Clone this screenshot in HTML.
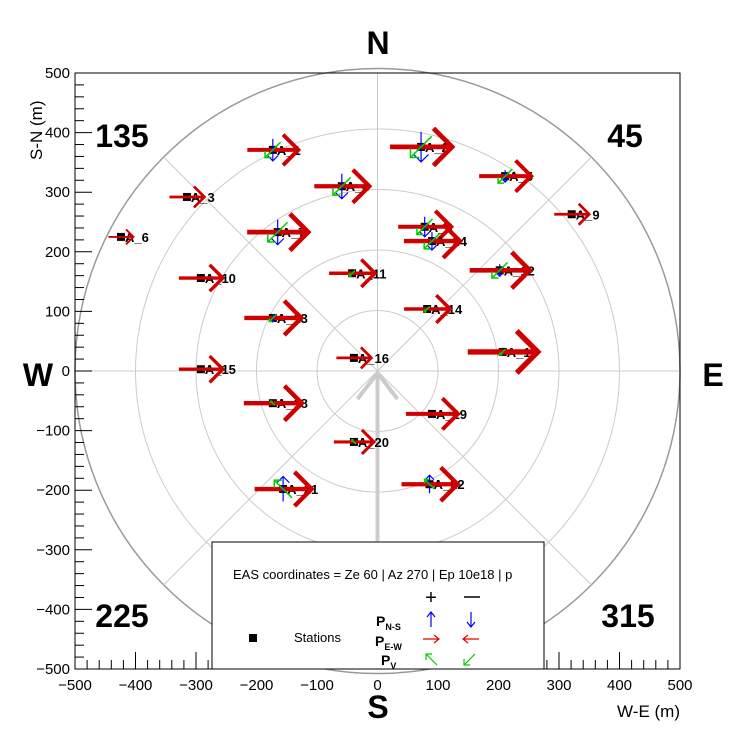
<!DOCTYPE html>
<html><head><meta charset="utf-8"><style>
body{margin:0;background:#fff;}
svg text{font-family:"Liberation Sans",sans-serif;}
</style></head><body>
<svg id="chart" width="756" height="744" viewBox="0 0 756 744" xmlns="http://www.w3.org/2000/svg">
<rect x="0" y="0" width="756" height="744" fill="#fff"/>
<g id="grid"></g>
<g id="marks"></g>
<g id="axes"></g>
<g id="legend">
  <rect x="212" y="542" width="332" height="127" fill="#fff" stroke="#000" stroke-width="1"/>
  <text x="233" y="579" font-size="13">EAS coordinates =  Ze 60 | Az 270 | Ep 10e18 | p</text>
  <text x="431" y="604" font-size="20" text-anchor="middle">+</text>
  <line x1="464" y1="597" x2="480" y2="597" stroke="#000" stroke-width="1.5"/>
  <rect x="249" y="634" width="8" height="8" fill="#000"/>
  <text x="294" y="642" font-size="13">Stations</text>
  <text x="376" y="626" font-size="14" font-weight="bold">P<tspan font-size="9" dy="4">N-S</tspan></text>
  <text x="375" y="646" font-size="14" font-weight="bold">P<tspan font-size="9" dy="4">E-W</tspan></text>
  <text x="381" y="665" font-size="14" font-weight="bold">P<tspan font-size="9" dy="4">V</tspan></text>
  <g stroke="#0000ff" fill="none" stroke-width="1.2">
    <path d="M431 627 V612 M427 617 L431 612 L435 617"/>
    <path d="M471 612 V627 M467 622 L471 627 L475 622"/>
  </g>
  <g stroke="#e00000" fill="none" stroke-width="1.2">
    <path d="M423 639 H439 M434 635 L439 639 L434 643"/>
    <path d="M479 639 H463 M468 635 L463 639 L468 643"/>
  </g>
  <g stroke="#00cc00" fill="none" stroke-width="1.2">
    <path d="M437 665 L426 654 M426 660 V654 H432"/>
    <path d="M475 654 L464 665 M464 659 V665 H470"/>
  </g>
</g>
<g font-weight="bold" font-size="32" text-anchor="middle">
  <text x="378" y="54">N</text>
  <text x="378" y="718">S</text>
  <text x="38" y="386">W</text>
  <text x="713" y="386">E</text>
  <text x="122" y="147">135</text>
  <text x="625" y="147">45</text>
  <text x="122" y="627">225</text>
  <text x="628" y="627">315</text>
</g>
<text x="680" y="717" font-size="17" text-anchor="end">W-E (m)</text>
<text transform="translate(42,160) rotate(-90)" font-size="17">S-N (m)</text>
</svg>
<script>
const stationNames = ["A_1","A_2","A_3","A_4","A_5","A_6","A_7","A_8","A_9","A_10","A_11","A_12","A_13","A_14","A_15","A_16","A_17","A_18","A_19","A_20","A_21","A_22","A_24"];
const stationX = [-173,72,-315,-59,211,-424,-165,78,321,-292,-42,202,-173,82,-292,-39,207,-173,90,-39,-156,86,90];
const stationY = [371,376,292,310,327,225,233,242,263,156,164,169,89,104,3,22,32,-54,-72,-119,-198,-190,218];
const pEW = [51,62,35,55,52,25,61,53,35,44,46,60,57,46,44,35,70,58,52,40,57,56,56];
const pNS = [-22,-30,0,-25,-12,0,-25,-20,0,0,0,-12,-8,0,0,0,0,0,0,0,25,18,-18];
const pV = [-22,-30,0,-25,-20,0,-28,-22,0,0,-8,-22,-10,-8,0,0,-8,6,0,6,25,14,-22];
const xTicks = [-500,-400,-300,-200,-100,0,100,200,300,400,500];
const yTicks = [-500,-400,-300,-200,-100,0,100,200,300,400,500];
const ringRadii = [100,200,300,400,500];
const spokeAngles = [45,135,225,315];

const NS='http://www.w3.org/2000/svg';
const L=75,R=680,T=73,B=669;
function sx(v){return L+(v+500)/1000*(R-L);}
function sy(v){return B-(v+500)/1000*(B-T);}
function mk(tag,attrs,parent){const e=document.createElementNS(NS,tag);for(const k in attrs)e.setAttribute(k,attrs[k]);parent.appendChild(e);return e;}
const grid=document.getElementById('grid'),marks=document.getElementById('marks'),axes=document.getElementById('axes');
const cx=sx(0),cy=sy(0),pxPerM=(R-L)/1000;

ringRadii.forEach((r,i)=>{
  const c=mk('circle',{cx:cx,cy:cy,r:r*pxPerM,fill:'none',stroke:i===ringRadii.length-1?'#999':'#ccc','stroke-width':i===ringRadii.length-1?1.5:1},grid);
  
  
});
spokeAngles.forEach(a=>{
  const rr=500*pxPerM,t=a*Math.PI/180;
  const l=mk('line',{x1:cx,y1:cy,x2:cx+rr*Math.cos(t),y2:cy-rr*Math.sin(t),stroke:'#ccc','stroke-width':1},grid);
  
  
});
let g1=mk('line',{x1:cx,y1:T,x2:cx,y2:B,stroke:'#ccc','stroke-width':1},grid);


let g2=mk('line',{x1:L,y1:cy,x2:R,y2:cy,stroke:'#ccc','stroke-width':1},grid);


let sh=mk('path',{d:`M${cx} ${cy+170} V${cy+2} M${cx-20} ${cy+28} L${cx} ${cy+2} L${cx+20} ${cy+28}`,stroke:'#ccc','stroke-width':4,fill:'none'},grid);



stationNames.forEach((n,i)=>{
  const x=sx(stationX[i]),y=sy(stationY[i]);
  const g=mk('g',{},marks);
  
  
  mk('rect',{x:x-4,y:y-4,width:8,height:8,fill:'#000'},g);
  const t=mk('text',{x:x+4,y:y+5,'font-size':13,'font-weight':'bold'},g);
  t.textContent=n;
  const e=pEW[i];
  if(e){const w=Math.max(1.5,e/13),h=e*0.3;
    mk('path',{d:`M${x-e/2} ${y} H${x+e/2} M${x+e/2-h} ${y-h} L${x+e/2} ${y} L${x+e/2-h} ${y+h}`,stroke:'#d00000','stroke-width':w,fill:'none'},g);}
  const b=pNS[i];
  if(b){const h=Math.abs(b)*0.25,s=Math.sign(b);
    mk('path',{d:`M${x} ${y+b/2} V${y-b/2} M${x-h} ${y-b/2+s*h} L${x} ${y-b/2} L${x+h} ${y-b/2+s*h}`,stroke:'#0000ff','stroke-width':1.2,fill:'none'},g);}
  const v=pV[i];
  if(v){const d=Math.abs(v)/Math.SQRT2/2,h=Math.abs(v)*0.3,s=Math.sign(v);
    const tx=x-d,ty=y+(s>0?-d:d),fx=x+d,fy=y+(s>0?d:-d);
    mk('path',{d:`M${fx} ${fy} L${tx} ${ty} M${tx} ${ty+s*h} V${ty} H${tx+h}`,stroke:'#00cc00','stroke-width':1.5,fill:'none'},g);}
});

let fr=mk('rect',{x:L,y:T,width:R-L,height:B-T,fill:'none',stroke:'#000','stroke-width':1},axes);


for(let v=-500;v<=500;v+=20){
  const maj=v%100===0;
  let t=mk('line',{x1:sx(v),y1:B,x2:sx(v),y2:B-(maj?17:9),stroke:'#000','stroke-width':1},axes);
  
  
  let u=mk('line',{x1:L,y1:sy(v),x2:L+(maj?17:9),y2:sy(v),stroke:'#000','stroke-width':1},axes);
  
  
}
xTicks.forEach(v=>{
  const t=mk('text',{x:sx(v),y:B+21,'font-size':15,'text-anchor':'middle'},axes);
  
  
  t.textContent=v<0?'\u2212'+(-v):String(v);
});
yTicks.forEach(v=>{
  const t=mk('text',{x:L-5,y:sy(v)+5,'font-size':15,'text-anchor':'end'},axes);
  
  
  t.textContent=v<0?'\u2212'+(-v):String(v);
});
document.getElementById('chart').appendChild(document.getElementById('legend'));
</script>
</body></html>
